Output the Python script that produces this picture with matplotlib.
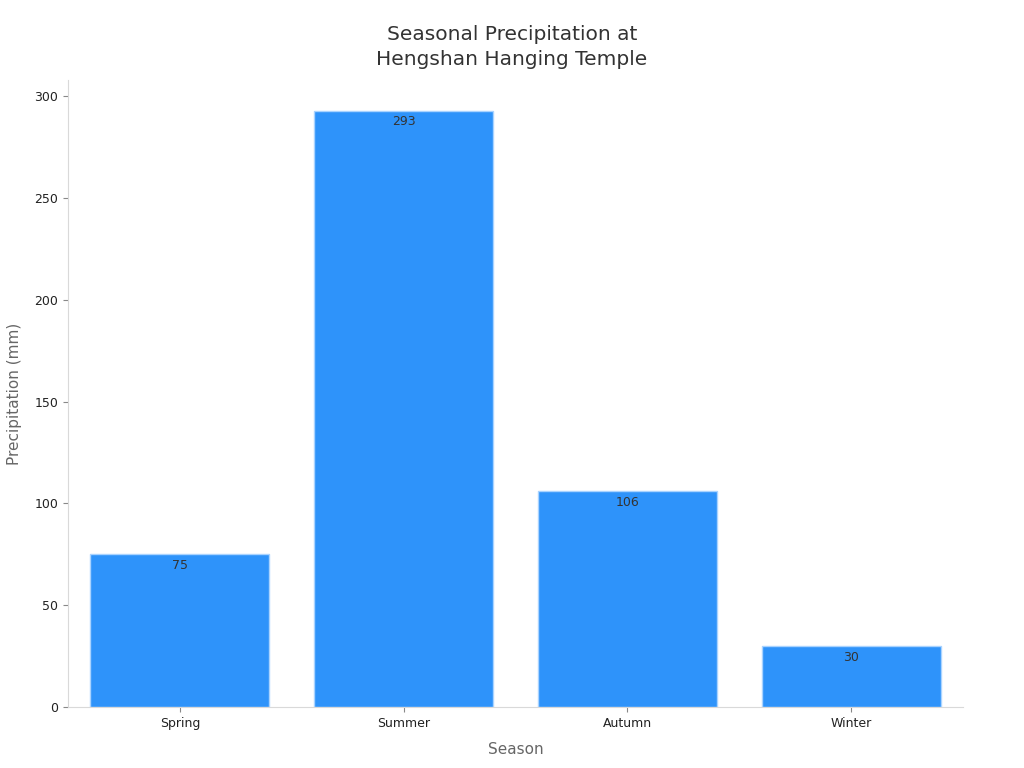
import matplotlib.pyplot as plt

# Data
seasons = ['Spring', 'Summer', 'Autumn', 'Winter']
precip = [75, 293, 106, 30]

fig = plt.figure(figsize=(10.24, 7.68), dpi=100)
ax = fig.add_axes([0.0664, 0.0794, 0.874, 0.8164])

bars = ax.bar(seasons, precip, width=0.8, color='#2E93FA', edgecolor='#A9D3FF', linewidth=1)

for rect, v in zip(bars, precip):
    ax.text(rect.get_x() + rect.get_width() / 2, v - 2.3, str(v),
            ha='center', va='top', fontsize=9, color='#333333')

ax.set_xlim(-0.5, 3.5)
ax.set_ylim(0, 308)
ax.set_yticks([0, 50, 100, 150, 200, 250, 300])

for side in ['top', 'right']:
    ax.spines[side].set_visible(False)
for side in ['left', 'bottom']:
    ax.spines[side].set_color('#D9D9D9')

ax.tick_params(axis='x', labelsize=9, colors='#888888', labelcolor='#222222')
ax.tick_params(axis='y', labelsize=9, colors='#888888', labelcolor='#222222')

ax.set_xlabel('Season', fontsize=11, color='#666666', labelpad=9)
ax.set_ylabel('Precipitation (mm)', fontsize=11, color='#666666', labelpad=9)
fig.suptitle('Seasonal Precipitation at\nHengshan Hanging Temple', fontsize=14.5,
             color='#333333', y=0.968, linespacing=1.45)

fig.savefig('out.png', dpi=100)
